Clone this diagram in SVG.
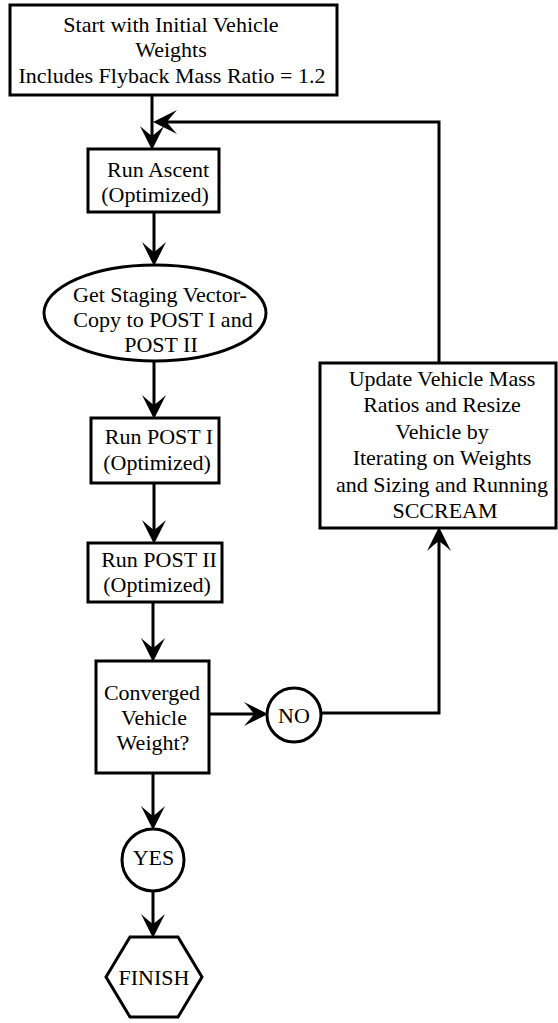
<svg xmlns="http://www.w3.org/2000/svg" width="558" height="1023" viewBox="0 0 558 1023">
<style>
.n{fill:#fff;stroke:#000;stroke-width:3}
.c{fill:none;stroke:#000;stroke-width:3}
text{font-family:"Liberation Serif","Times New Roman",serif;font-size:22px;fill:#000;text-anchor:middle}
</style>
<defs>
<marker id="ah" markerUnits="userSpaceOnUse" markerWidth="26" markerHeight="26" viewBox="0 0 26 26" refX="11" refY="13" orient="auto">
<path d="M25,13 L1,1 Q9,10 11,13 Q9,16 1,25 Z" fill="#000"/>
</marker>
</defs>
<rect width="558" height="1023" fill="#fff"/>
<g id="connectors">
<path class="c" d="M152,95 V136" marker-end="url(#ah)"/>
<path class="c" d="M439,363 V122 H167" marker-end="url(#ah)"/>
<path class="c" d="M154,212 V252" marker-end="url(#ah)"/>
<path class="c" d="M154,362 V405" marker-end="url(#ah)"/>
<path class="c" d="M154,483 V530" marker-end="url(#ah)"/>
<path class="c" d="M153,602 V648" marker-end="url(#ah)"/>
<path class="c" d="M209,714 H254" marker-end="url(#ah)"/>
<path class="c" d="M321,713 H439 V541" marker-end="url(#ah)"/>
<path class="c" d="M153,773 V816" marker-end="url(#ah)"/>
<path class="c" d="M153,891 V924" marker-end="url(#ah)"/>
</g>
<g id="start">
<rect class="n" x="10" y="5" width="327" height="90"/>
<text x="171" y="32">Start with Initial Vehicle</text>
<text x="171" y="57">Weights</text>
<text x="172" y="83">Includes Flyback Mass Ratio = 1.2</text>
</g>
<g id="ascent">
<rect class="n" x="88" y="149" width="131" height="63"/>
<text x="158" y="177">Run Ascent</text>
<text x="155" y="202">(Optimized)</text>
</g>
<g id="staging">
<ellipse class="n" cx="155" cy="313" rx="111" ry="48"/>
<text x="160" y="302">Get Staging Vector-</text>
<text x="163" y="327">Copy to POST I and</text>
<text x="161" y="352">POST II</text>
</g>
<g id="post1">
<rect class="n" x="91" y="418" width="128" height="65"/>
<text x="159" y="444">Run POST I</text>
<text x="157" y="470">(Optimized)</text>
</g>
<g id="post2">
<rect class="n" x="88" y="543" width="134" height="59"/>
<text x="159" y="567">Run POST II</text>
<text x="157" y="592">(Optimized)</text>
</g>
<g id="converged">
<rect class="n" x="96" y="661" width="113" height="112"/>
<text x="152" y="700">Converged</text>
<text x="154" y="725">Vehicle</text>
<text x="153" y="750">Weight?</text>
</g>
<g id="no">
<circle class="n" cx="294" cy="715" r="27"/>
<text x="294" y="723">NO</text>
</g>
<g id="update">
<rect class="n" x="320" y="363" width="236" height="165"/>
<text x="442" y="386">Update Vehicle Mass</text>
<text x="442" y="412">Ratios and Resize</text>
<text x="442" y="439">Vehicle by</text>
<text x="442" y="465">Iterating on Weights</text>
<text x="442" y="492">and Sizing and Running</text>
<text x="445" y="518">SCCREAM</text>
</g>
<g id="yes">
<circle class="n" cx="153" cy="860" r="31"/>
<text x="153.5" y="865">YES</text>
</g>
<g id="finish">
<polygon class="n" points="130,937 178,937 202,977 178,1017 130,1017 106,977"/>
<text x="154" y="985">FINISH</text>
</g>
</svg>
